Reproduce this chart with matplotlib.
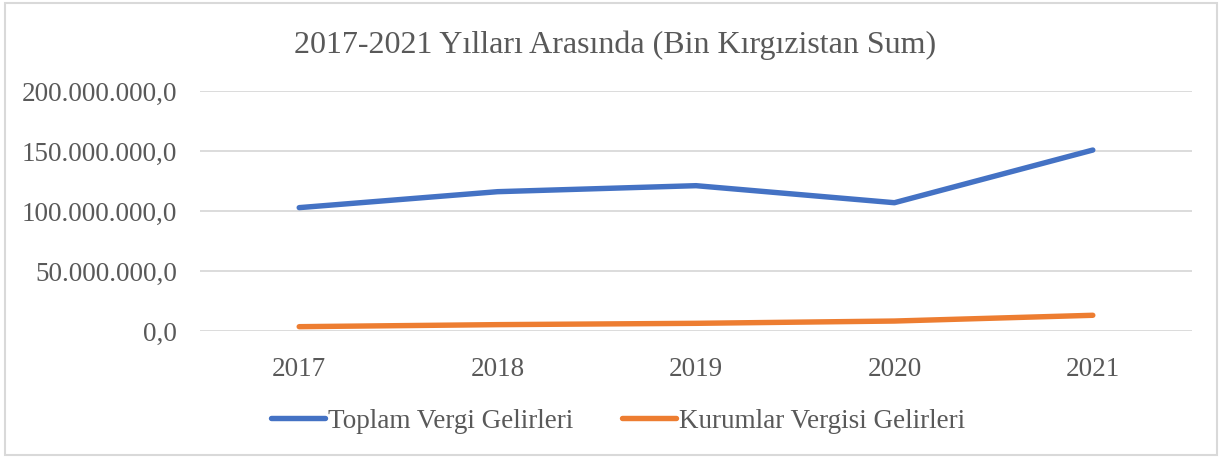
import matplotlib.pyplot as plt
from matplotlib.patches import Rectangle
from matplotlib.ticker import FuncFormatter

years = ['2017', '2018', '2019', '2020', '2021']
toplam = [102.8e6, 116.1e6, 121.1e6, 106.9e6, 150.8e6]
kurumlar = [3.6e6, 5.3e6, 6.4e6, 8.3e6, 13.1e6]
yticks = [0, 50e6, 100e6, 150e6, 200e6]

plt.rcParams['font.family'] = ['Liberation Serif', 'DejaVu Serif']
textColor = '#595959'


def trFormat(v, pos):
    s = '{:,.1f}'.format(v)
    return s.replace(',', 'X').replace('.', ',').replace('X', '.')


fig = plt.figure(figsize=(12.21, 4.57), dpi=100)
ax = fig.add_axes([200 / 1221, 1 - 331 / 457, 992 / 1221, 240 / 457])

x = range(len(years))
ax.plot(x, toplam, color='#4472C4', linewidth=3.9, solid_capstyle='round', label='Toplam Vergi Gelirleri')
ax.plot(x, kurumlar, color='#ED7D31', linewidth=3.9, solid_capstyle='round', label='Kurumlar Vergisi Gelirleri')

ax.set_xlim(-0.5, len(years) - 0.5)
ax.set_ylim(0, 200e6)
ax.set_xticks(list(x))
ax.set_xticklabels(years)
ax.set_yticks(yticks)
ax.yaxis.set_major_formatter(FuncFormatter(trFormat))
ax.grid(axis='y', color='#D9D9D9', linewidth=1.3)
ax.set_axisbelow(True)
for s in ax.spines.values():
    s.set_visible(False)
ax.tick_params(length=0, labelsize=19.5, colors=textColor)
ax.tick_params(axis='y', pad=16.5)
ax.tick_params(axis='x', pad=18.5)

fig.text(0.504, 1 - 45 / 457, '2017-2021 Yılları Arasında (Bin Kırgızistan Sum)',
         ha='center', va='center', fontsize=23, color=textColor)

leg = fig.legend(loc='center', bbox_to_anchor=(618 / 1221, 1 - 421 / 457), ncol=2, frameon=False,
                 fontsize=19.5, handlelength=2.0, handletextpad=0.1, columnspacing=1.8)
for t in leg.get_texts():
    t.set_color(textColor)

fig.patches.append(Rectangle((5 / 1221, 2 / 457), 1212 / 1221, 452 / 457, transform=fig.transFigure,
                             fill=False, edgecolor='#D9D9D9', linewidth=1.5))

fig.savefig('out.png', dpi=100)
